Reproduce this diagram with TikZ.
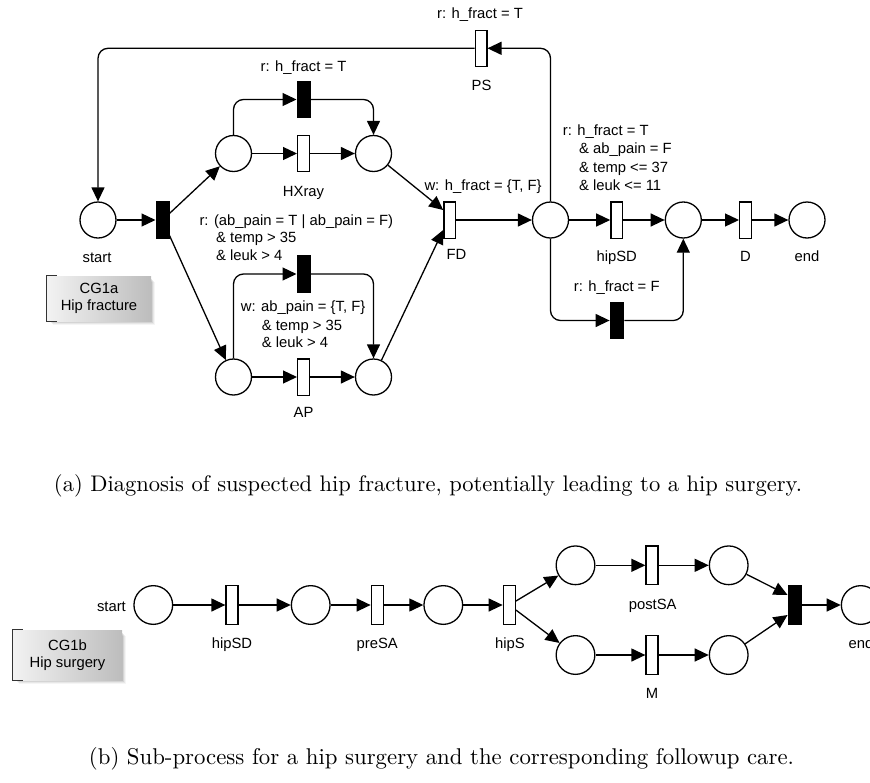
\documentclass[tikz,border=0pt]{standalone}
\usepackage{fontspec}
\usepackage{graphicx}
\newfontfamily\netfont{Liberation Sans}
\usetikzlibrary{arrows.meta,calc,backgrounds}

\tikzset{
  place/.style={circle, draw, line width=1.3pt, minimum size=36pt, inner sep=0pt, fill=white},
  bigplace/.style={place, minimum size=38.7pt},
  trans/.style={rectangle, draw, line width=1.3pt, minimum width=11.7pt, minimum height=36.3pt, inner sep=0pt, fill=white},
  bigtrans/.style={trans, minimum width=12pt, minimum height=38.7pt},
  silent/.style={fill=black, minimum width=12.7pt},
  flow/.style={line width=1.3pt, -{Triangle[length=14pt,width=13pt]}},
  elbow/.style={flow, rounded corners=10pt},
  lbl/.style={font=\netfont\fontsize{14.8}{18}\selectfont, inner sep=0pt, anchor=base},
  lblw/.style={lbl, anchor=base west},
  lble/.style={lbl, anchor=base east},
  cgbox/.style={rectangle, inner sep=0pt, left color=white!95!black, right color=white!74!black,
    font=\netfont\fontsize{14.8}{17.3}\selectfont, align=center},
  bracket/.style={line width=1.3pt, draw=black!80},
  caption/.style={inner sep=0pt, anchor=base}
}

\begin{document}
\begin{tikzpicture}[x=1pt,y=-1pt]
\useasboundingbox (0,0) rectangle (870,782);
\clip (0,0) rectangle (870,782);

% ---------- (a) diagnosis net ----------
\node[place] (start) at (98,220) {};
\node[trans,silent] (split) at (162.5,220) {};
\node[place] (px1) at (233.5,153.5) {};
\node[trans] (hxray) at (303.5,153.5) {};
\node[trans,silent] (skipx) at (303.5,99.5) {};
\node[place] (px2) at (373.5,153.5) {};
\node[place] (pa1) at (233.5,377) {};
\node[trans] (ap) at (303.5,377) {};
\node[trans,silent] (skipa) at (303.5,274) {};
\node[place] (pa2) at (373.5,377) {};
\node[trans] (fd) at (449.7,220) {};
\node[place] (dec) at (550.5,220) {};
\node[trans] (ps) at (481,48.3) {};
\node[trans] (hipsd) at (616.7,220) {};
\node[trans,silent,minimum width=13.5pt] (skipf) at (617,320.5) {};
\node[place] (done) at (683.3,220) {};
\node[trans] (dd) at (745.5,220) {};
\node[place] (endA) at (807,220) {};

\draw[flow] (start) -- (split);
\draw[flow] (split) -- (px1);
\draw[flow] (split) -- (pa1);
\draw[flow] (px1) -- (hxray);
\draw[flow] (hxray) -- (px2);
\draw[elbow] (px1.north) |- (skipx.west);
\draw[elbow] (skipx.east) -| (px2.north);
\draw[flow] (pa1) -- (ap);
\draw[flow] (ap) -- (pa2);
\draw[elbow] (pa1.north) |- (skipa.west);
\draw[elbow] (skipa.east) -| (pa2.north);
\draw[flow] (px2) -- ($(fd.west)+(0,-10)$);
\draw[flow] (pa2) -- ($(fd.west)+(0,10)$);
\draw[flow] (fd) -- (dec);
\draw[flow] (dec) -- (hipsd);
\draw[flow] (hipsd) -- (done);
\draw[flow] (done) -- (dd);
\draw[flow] (dd) -- (endA);
\draw[elbow] (dec.north) |- (ps.east);
\draw[elbow] (ps.west) -| (start.north);
\draw[elbow] (dec.south) |- (skipf.west);
\draw[elbow] (skipf.east) -| (done.south);

% labels of the diagnosis net
\node[lbl] at (303.5,71) {r: h\_fract = T};
\node[lbl] at (303.5,196) {HXray};
\node[lbl] at (97,262) {start};
\node[lblw] at (199.3,225) {r: (ab\_pain = T | ab\_pain = F)};
\node[lblw] at (216,242.5) {\& temp > 35};
\node[lblw] at (216,260) {\& leuk > 4};
\node[lblw] at (240.7,311.7) {w: ab\_pain = \{T, F\}};
\node[lblw] at (261.7,330) {\& temp > 35};
\node[lblw] at (261.7,347.7) {\& leuk > 4};
\node[lbl] at (303.5,417.7) {AP};
\node[lbl] at (480,18.3) {r: h\_fract = T};
\node[lbl] at (481.5,90) {PS};
\node[lble] at (541.7,190.5) {w: h\_fract = \{T, F\}};
\node[lblw] at (446.5,259) {FD};
\node[lblw] at (562.7,135) {r: h\_fract = T};
\node[lblw] at (579,153.5) {\& ab\_pain = F};
\node[lblw] at (579,172) {\& temp <= 37};
\node[lblw] at (579,190.5) {\& leuk <= 11};
\node[lbl] at (616.7,261.5) {hipSD};
\node[lbl] at (616.7,291.7) {r: h\_fract = F};
\node[lbl] at (745.5,261.5) {D};
\node[lbl] at (807,261.5) {end};

% group box CG1a
\node[cgbox, minimum width=104pt, minimum height=45pt] (cga) at (99,298.5) {CG1a\\Hip fracture};
\begin{scope}[on background layer]
  \foreach \d/\o in {1/0.10,2/0.08,3/0.06,4/0.04}
    \fill[black,opacity=\o] ($(cga.north west)+(\d+2,\d+2)$) rectangle ($(cga.south east)+(\d,\d)$);
\end{scope}
\draw[bracket] ($(cga.north west)+(10,0)$) -- (cga.north west) -- (cga.south west) -- ++(10,0);

\node[caption] (capa) at (428,491) {\resizebox{748pt}{!}{(a) Diagnosis of suspected hip fracture, potentially leading to a hip surgery.}};

% ---------- (b) surgery net ----------
\node[bigplace] (s0) at (153.3,605) {};
\node[bigtrans] (hipsd2) at (232,605) {};
\node[bigplace] (s1) at (310.7,605) {};
\node[bigtrans] (presa) at (377.3,605) {};
\node[bigplace] (s2) at (443.3,605) {};
\node[bigtrans] (hips) at (509.3,605) {};
\node[bigplace] (u1) at (575.5,565.3) {};
\node[bigtrans] (postsa) at (652,565.3) {};
\node[bigplace] (u2) at (728.7,565.3) {};
\node[bigplace] (l1) at (575.5,655) {};
\node[bigtrans] (mm) at (652,655) {};
\node[bigplace] (l2) at (728.7,655) {};
\node[bigtrans,silent,minimum width=13pt] (join) at (794.7,605) {};
\node[bigplace] (endB) at (860.7,605) {};

\draw[flow] (s0) -- (hipsd2);
\draw[flow] (hipsd2) -- (s1);
\draw[flow] (s1) -- (presa);
\draw[flow] (presa) -- (s2);
\draw[flow] (s2) -- (hips);
\draw[flow] (hips) -- (u1);
\draw[flow] (hips) -- (l1);
\draw[flow] (u1) -- (postsa);
\draw[flow] (postsa) -- (u2);
\draw[flow] (l1) -- (mm);
\draw[flow] (mm) -- (l2);
\draw[flow] (u2) -- ($(join.west)+(0,-10)$);
\draw[flow] (l2) -- ($(join.west)+(0,10)$);
\draw[flow] (join) -- (endB);

\node[lble] at (126,611.7) {start};
\node[lbl] at (232,648.3) {hipSD};
\node[lbl] at (377.3,648.3) {preSA};
\node[lbl] at (510,648.3) {hipS};
\node[lbl] at (652.7,609.3) {postSA};
\node[lbl] at (652,698.3) {M};
\node[lbl] at (861,648.3) {end};

% group box CG1b
\node[cgbox, minimum width=109pt, minimum height=50pt] (cgb) at (67.5,655) {CG1b\\Hip surgery};
\begin{scope}[on background layer]
  \foreach \d/\o in {1/0.10,2/0.08,3/0.06,4/0.04}
    \fill[black,opacity=\o] ($(cgb.north west)+(\d+2,\d+2)$) rectangle ($(cgb.south east)+(\d,\d)$);
\end{scope}
\draw[bracket] ($(cgb.north west)+(10,0)$) -- (cgb.north west) -- (cgb.south west) -- ++(10,0);

\node[caption] (capb) at (441.5,764) {\resizebox{705pt}{!}{(b) Sub-process for a hip surgery and the corresponding followup care.}};
\end{tikzpicture}
\end{document}
